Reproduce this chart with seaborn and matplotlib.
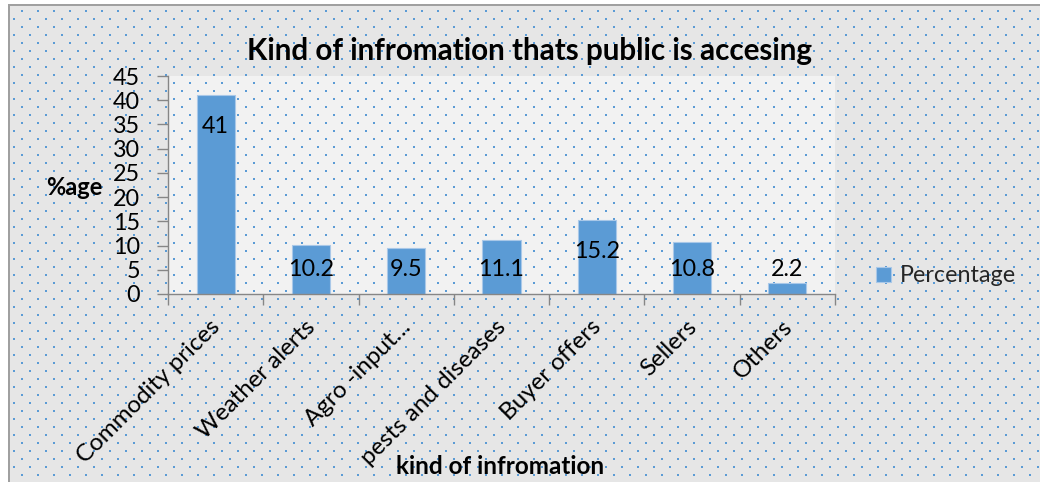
import numpy as np
import pandas as pd
import matplotlib
matplotlib.use("Agg")
import matplotlib.pyplot as plt
import matplotlib.transforms as mtransforms
import seaborn as sns

# ---------------- data ----------------
categories = ["Commodity prices", "Weather alerts", "Agro -input\u2026",
              "pests and diseases", "Buyer offers", "Sellers", "Others"]
values = [41, 10.2, 9.5, 11.1, 15.2, 10.8, 2.2]
value_labels = ["41", "10.2", "9.5", "11.1", "15.2", "10.8", "2.2"]
y_ticks = [0, 5, 10, 15, 20, 25, 30, 35, 40, 45]
series_name = "Percentage"
title = "Kind of infromation thats public is accesing"
x_title = "kind of infromation"
y_title = "%age"

# ---------------- style ----------------
W, H, DPI = 1040, 482, 100
sns.set_theme(style="white")
plt.rcParams["font.family"] = ["Lato", "DejaVu Sans"]

BAR = "#5b9bd5"
AXC = "#868686"
FS = 16.8

fig = plt.figure(figsize=(W / DPI, H / DPI), dpi=DPI)
fig.patch.set_facecolor("white")

# plot area (pixels)
PL, PR, PT, PB = 168, 835, 76, 294
ax = fig.add_axes([PL / W, 1 - PB / H, (PR - PL) / W, (PB - PT) / H])
ax.patch.set_alpha(0)

# background: chart area + plot area with dotted pattern
bg = np.full((H, W, 3), 230, np.uint8)
bg[PT:PB, PL:PR] = 242
yy, xx = np.mgrid[0:H, 0:W]
row = yy - 2
on_row = (row % 8) < 2
r = row // 8
xoff = np.where(r % 2 == 0, 13, 5)
on_col = ((xx - xoff) % 16) < 2
bg[on_row & on_col] = (91, 155, 213)
bg[:4, :] = 255
bg[:, :8] = 255
bg[4:6, 8:] = (160, 160, 160)
bg[4:, 8:10] = (160, 160, 160)
fig.figimage(bg, xo=0, yo=0, origin="upper", zorder=-5)

df = pd.DataFrame({"category": categories, "value": values})
sns.barplot(data=df, x="category", y="value", color=BAR, saturation=1,
            width=0.4, ax=ax, label=series_name,
            edgecolor="#a9c8e8", linewidth=0.8)

ax.set_xlim(-0.5, len(categories) - 0.5)
ax.set_ylim(0, 45)
ax.set_yticks(y_ticks)
ax.set_xlabel("")
ax.set_ylabel("")

for s in ["top", "right"]:
    ax.spines[s].set_visible(False)
for s in ["left", "bottom"]:
    ax.spines[s].set_color(AXC)
    ax.spines[s].set_linewidth(1.0)

ax.tick_params(axis="y", which="major", left=True, direction="out", length=8,
               width=1, color=AXC, labelsize=FS, pad=12, labelcolor="black")
ax.set_xticks(np.arange(-0.5, len(categories), 1.0), minor=True)
ax.tick_params(axis="x", which="minor", bottom=True, direction="out",
               length=8, width=1, color=AXC)
ax.tick_params(axis="x", which="major", bottom=True, length=0,
               labelsize=17.4, pad=16, labelcolor="black")
ax.set_xticks(range(len(categories)))
ax.set_xticklabels(categories, rotation=45, ha="right", va="top",
                   rotation_mode="anchor")
shift = mtransforms.ScaledTranslation(-6 / DPI, 0, fig.dpi_scale_trans)
for lbl in ax.get_xticklabels():
    lbl.set_transform(lbl.get_transform() + shift)

# data labels (inside end, kept above axis)
for i, (v, lab) in enumerate(zip(values, value_labels)):
    yc = max(v - 6.0, 5.4)
    ax.annotate(lab, xy=(i, yc), xytext=(0, -6.2), textcoords="offset points",
                ha="center", va="baseline", fontsize=FS, color="black")

# titles
fig.text(530 / W, 1 - 60 / H, title, ha="center", va="baseline",
         fontsize=21.3, fontweight="bold", color="black")
fig.text(500 / W, 1 - 474 / H, x_title, ha="center", va="baseline",
         fontsize=17.5, fontweight="bold", color="black")
fig.text(74 / W, 1 - 195 / H, y_title, ha="center", va="baseline",
         fontsize=17, fontweight="bold", color="black")

# legend
handles, labels = ax.get_legend_handles_labels()
ax.legend(handles, labels, loc="center left",
          bbox_to_anchor=(876 / W, 1 - 276 / H), bbox_transform=fig.transFigure,
          frameon=False, fontsize=FS, handlelength=0.65, handleheight=0.65,
          handletextpad=0.38, borderpad=0, borderaxespad=0)

fig.savefig("out.png", dpi=DPI)
